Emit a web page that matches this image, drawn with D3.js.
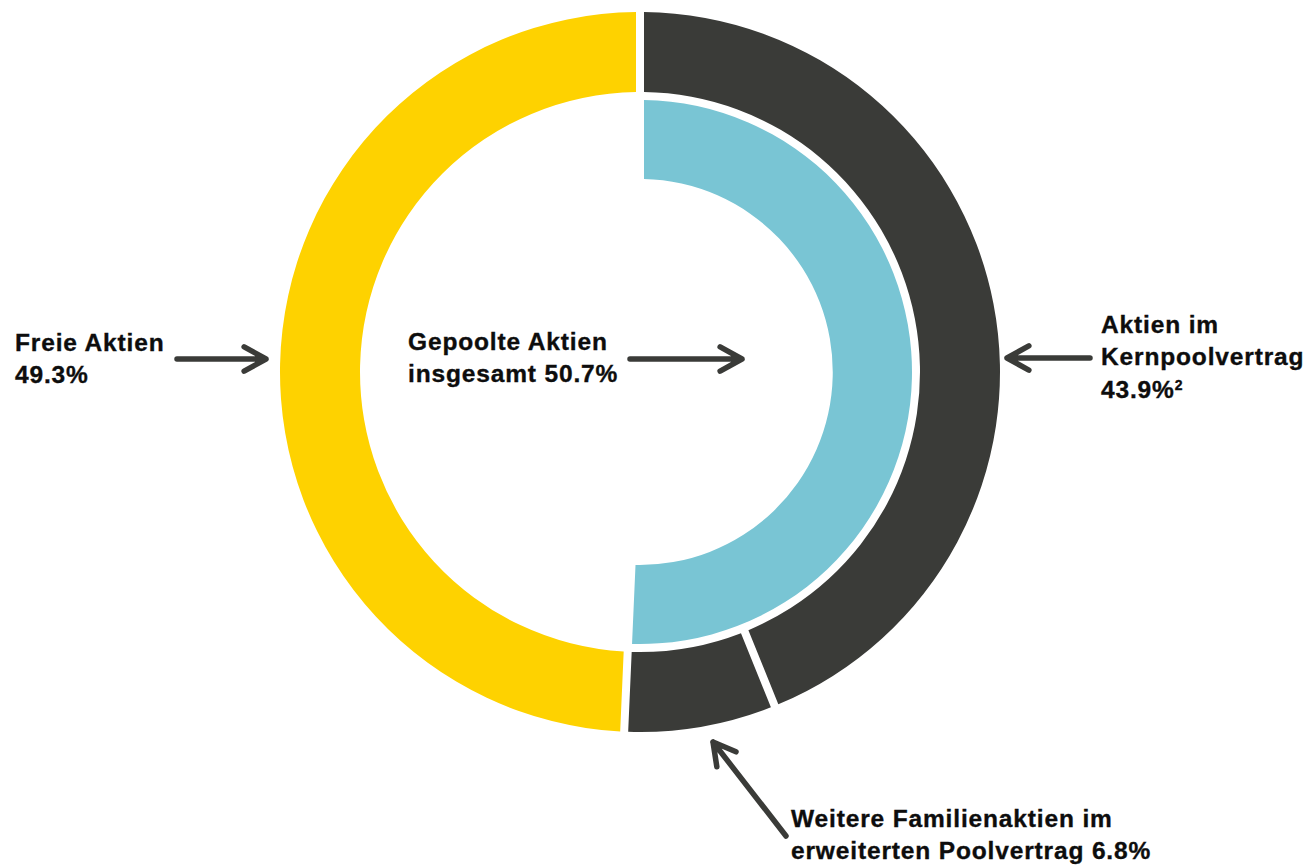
<!DOCTYPE html>
<html lang="de">
<head>
<meta charset="utf-8">
<title>Aktionärsstruktur</title>
<script src="https://cdn.jsdelivr.net/npm/d3@7"></script>
<style>
  html, body { margin: 0; padding: 0; background: #ffffff; }
  svg { display: block; }
  .lbl { font-family: "Liberation Sans", Arial, Helvetica, sans-serif; font-weight: 700; font-size: 24.5px; letter-spacing: 0.85px; fill: #0d0d0d; stroke: #0d0d0d; stroke-width: 0.35px; }
</style>
</head>
<body>
<svg id="chart" width="1310" height="866"></svg>
<script>
// Shareholder structure (percent of shares)
const outerCategories = ["Aktien im Kernpoolvertrag", "Weitere Familienaktien im erweiterten Poolvertrag", "Freie Aktien"];
const outerValues = [43.9, 6.8, 49.3];
const outerColors = ["#3a3b38", "#3a3b38", "#fed200"];

const innerCategories = ["Gepoolte Aktien insgesamt", "Rest"];
const innerValues = [50.7, 49.3];
const innerColors = ["#79c5d4", "none"];

const cx = 640, cy = 372;
const svg = d3.select("#chart");
const g = svg.append("g").attr("transform", `translate(${cx},${cy})`);

const pie = d3.pie().sort(null).value(d => d.value);

// constant-width white gaps between segments
const arcOuter = d3.arc().innerRadius(280).outerRadius(360).padAngle(0.025).padRadius(320);
const arcInner = d3.arc().innerRadius(193).outerRadius(272).padAngle(0.025).padRadius(320);

const outerData = outerCategories.map((c, i) => ({ name: c, value: outerValues[i], color: outerColors[i] }));
const innerData = innerCategories.map((c, i) => ({ name: c, value: innerValues[i], color: innerColors[i] }));

g.selectAll("path.outer").data(pie(outerData)).join("path")
  .attr("class", "outer")
  .attr("d", arcOuter)
  .attr("fill", d => d.data.color);

g.selectAll("path.inner").data(pie(innerData).filter(d => d.data.color !== "none")).join("path")
  .attr("class", "inner")
  .attr("d", arcInner)
  .attr("fill", d => d.data.color);

// Arrows pointing at the segments
const arrowColor = "#3a3b38";
function arrow(x1, y1, x2, y2) {
  const a = Math.atan2(y2 - y1, x2 - x1);
  const len = 25, spread = Math.PI / 6.2;
  const p1 = [x2 - len * Math.cos(a - spread), y2 - len * Math.sin(a - spread)];
  const p2 = [x2 - len * Math.cos(a + spread), y2 - len * Math.sin(a + spread)];
  const path = d3.path();
  path.moveTo(x1, y1); path.lineTo(x2, y2);
  path.moveTo(p1[0], p1[1]); path.lineTo(x2, y2); path.lineTo(p2[0], p2[1]);
  svg.append("path")
    .attr("d", path.toString())
    .attr("fill", "none")
    .attr("stroke", arrowColor)
    .attr("stroke-width", 5.5)
    .attr("stroke-linecap", "round")
    .attr("stroke-linejoin", "round");
}
arrow(177, 359, 266, 359);
arrow(630, 359, 742, 359);
arrow(1090, 358, 1007, 358);
arrow(786, 836, 713, 742);

// Labels
function label(x, lines) {
  const t = svg.append("text").attr("class", "lbl").attr("x", x);
  lines.forEach(l => {
    t.append("tspan").attr("x", x).attr("y", l.y).text(l.text);
    if (l.sup) {
      t.append("tspan").attr("dy", -8).style("font-size", "14px").style("letter-spacing", "0px").text(l.sup);
    }
  });
}
const fmt = v => d3.format(".1f")(v) + "%";

label(15, [
  { y: 351, text: outerCategories[2] },
  { y: 383, text: fmt(outerValues[2]) }
]);
label(408, [
  { y: 350, text: "Gepoolte Aktien" },
  { y: 382, text: "insgesamt " + fmt(innerValues[0]) }
]);
label(1101, [
  { y: 333, text: "Aktien im" },
  { y: 365, text: "Kernpoolvertrag" },
  { y: 398, text: fmt(outerValues[0]), sup: "2" }
]);
label(791, [
  { y: 827, text: "Weitere Familienaktien im" },
  { y: 859, text: "erweiterten Poolvertrag " + fmt(outerValues[1]) }
]);
</script>
</body>
</html>
